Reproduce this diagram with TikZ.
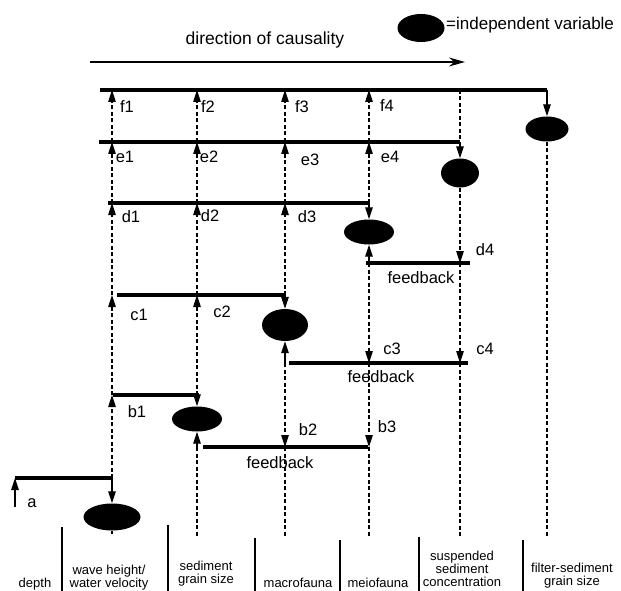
\documentclass[tikz,border=0pt]{standalone}
\usepackage{fontspec}
\setmainfont{Liberation Sans}
\usetikzlibrary{arrows.meta,shapes.geometric}
\begin{document}
\begin{tikzpicture}[x=1pt,y=-1pt,
  bar/.style={line width=3.6pt},
  dsh/.style={line width=1.1pt, dash pattern=on 4pt off 2.5pt},
  tipped/.style={-{Triangle[length=12pt,width=7.5pt]}},
  solidarr/.style={line width=1.3pt,-{Triangle[length=12pt,width=7.5pt]}},
  indep/.style={ellipse, fill=black, draw=none, inner sep=0pt},
  lbl/.style={font=\fontsize{16.5}{18}\selectfont, inner sep=0pt},
  bot/.style={font=\fontsize{13}{13}\selectfont, align=center, inner sep=0pt},
  sep/.style={line width=1.2pt},
]
\useasboundingbox (0,0) rectangle (621,591);

% legend and direction
\node[indep, minimum width=47pt, minimum height=28pt] (leg) at (421,28) {};
\node[anchor=west, inner sep=0pt, font=\fontsize{17}{18}\selectfont] (legt) at (446,25) {=independent variable};
\coordinate (dirA) at (90,62);
\coordinate (dirB) at (465,62);
\draw[line width=1.4pt,-{Stealth[length=16pt,width=9pt]}] (dirA) -- (dirB);
\node[inner sep=0pt, font=\fontsize{17.5}{18}\selectfont] (dirt) at (265,40) {direction of causality};

% independent variables
\node[indep, minimum width=43pt, minimum height=25pt] (fs) at (547,129) {};
\node[indep, minimum width=38pt, minimum height=29pt] (ss) at (460,173) {};
\node[indep, minimum width=50pt, minimum height=25pt] (me) at (369,232) {};
\node[indep, minimum width=46pt, minimum height=32pt] (ma) at (285,325) {};
\node[indep, minimum width=50pt, minimum height=25pt] (se) at (197,419) {};
\node[indep, minimum width=57pt, minimum height=27pt] (wh) at (112,517) {};

% coordinates: horizontal bars
\coordinate (F0) at (100,90);  \coordinate (F1) at (547,90);
\coordinate (E0) at (99,142);  \coordinate (E1) at (460,142);
\coordinate (D0) at (108,203); \coordinate (D1) at (369,203);
\coordinate (G0) at (366,263); \coordinate (G1) at (470,263);
\coordinate (C0) at (117,295); \coordinate (C1) at (285,295);
\coordinate (H0) at (289,363); \coordinate (H1) at (468,363);
\coordinate (B0) at (113,395); \coordinate (B1) at (199,395);
\coordinate (K0) at (203,447); \coordinate (K1) at (368,447);
\coordinate (A0) at (15,478);  \coordinate (A1) at (112,478);

\foreach \a/\b in {F0/F1,E0/E1,D0/D1,G0/G1,C0/C1,H0/H1,B0/B1,K0/K1,A0/A1}
  \draw[bar] (\a) -- (\b);

% corners into the independent variables
\draw[solidarr] (F1) -- (fs.north);
\draw[solidarr] (E1) -- (ss.north);
\draw[solidarr] (D1) -- (me.north);
\draw[solidarr] (C1) -- (ma.north);
\draw[solidarr] (B1 -| se) -- (se.north);
\draw[solidarr] (A1) -- (wh.north);

% feedback arrows up into ellipses
\coordinate (meF) at (369,263);
\coordinate (maF) at (285,363);
\coordinate (seF) at (197,447);
\draw[solidarr] (meF) -- (me.south);
\draw[solidarr] (maF) -- (ma.south);
\draw[solidarr] (seF) -- (se.south);

% column W (112)
\coordinate (wF) at (112,90);  \coordinate (wE) at (112,142);
\coordinate (wD) at (112,203); \coordinate (wC) at (112,295);
\coordinate (wB) at (112,395);
\draw[dsh,tipped] (wE) -- (wF);
\draw[dsh,tipped] (wD) -- (wE);
\draw[dsh,tipped] (wC) -- (wD);
\draw[dsh,tipped] (wB) -- (wC);
\draw[dsh,tipped] (A1) -- (wB);
\coordinate (wEnd) at (112,534);
\draw[line width=1.1pt] (wh.south) -- (wEnd);

% column S (197)
\coordinate (sF) at (197,90);  \coordinate (sE) at (197,142);
\coordinate (sD) at (197,203); \coordinate (sC) at (197,295);
\coordinate (sB) at (197,395); \coordinate (sEnd) at (197,537);
\draw[dsh,tipped] (sE) -- (sF);
\draw[dsh,tipped] (sD) -- (sE);
\draw[dsh,tipped] (sC) -- (sD);
\draw[dsh,tipped] (sB) -- (sC);
\draw[dsh] (seF) -- (sEnd);

% column M (285)
\coordinate (mF) at (285,90);  \coordinate (mE) at (285,142);
\coordinate (mD) at (285,203); \coordinate (mK) at (285,447);
\coordinate (mEnd) at (285,537);
\draw[dsh,tipped] (mE) -- (mF);
\draw[dsh,tipped] (mD) -- (mE);
\draw[dsh,tipped] (C1) -- (mD);
\draw[dsh,tipped] (maF) -- (mK);
\draw[dsh] (mK) -- (mEnd);

% column Me (369)
\coordinate (eF) at (369,90);  \coordinate (eE) at (369,142);
\coordinate (eH) at (369,363); \coordinate (eK) at (369,447);
\coordinate (eEnd) at (369,537);
\draw[dsh,tipped] (eE) -- (eF);
\draw[dsh,tipped] (D1) -- (eE);
\draw[dsh,tipped] (meF) -- (eH);
\draw[dsh,tipped] (eH) -- (eK);
\draw[dsh] (eK) -- (eEnd);

% column SS (460)
\coordinate (tF) at (460,90);  \coordinate (tG) at (460,263);
\coordinate (tH) at (460,363); \coordinate (tEnd) at (460,537);
\draw[dsh] (tF) -- (E1);
\draw[dsh,tipped] (ss.south) -- (tG);
\draw[dsh,tipped] (tG) -- (tH);
\draw[dsh] (tH) -- (tEnd);

% column FS (547)
\coordinate (uEnd) at (547,537);
\draw[dsh] (fs.south) -- (uEnd);

% depth arrow
\coordinate (aS) at (15,507);
\draw[solidarr] (aS) -- (A0);

% labels
\node[lbl] (f1) at (127,107) {f1};
\node[lbl] (f2) at (208,107) {f2};
\node[lbl] (f3) at (302,107) {f3};
\node[lbl] (f4) at (387,106) {f4};
\node[lbl] (e1) at (125,157) {e1};
\node[lbl] (e2) at (209,157) {e2};
\node[lbl] (e3) at (310,160) {e3};
\node[lbl] (e4) at (390,157) {e4};
\node[lbl] (d1) at (131,217) {d1};
\node[lbl] (d2) at (210,216) {d2};
\node[lbl] (d3) at (307,217) {d3};
\node[lbl] (d4) at (485,250) {d4};
\node[lbl] (c1) at (139,315) {c1};
\node[lbl] (c2) at (222,312) {c2};
\node[lbl] (c3) at (392,349) {c3};
\node[lbl] (c4) at (485,349) {c4};
\node[lbl] (b1) at (137,412) {b1};
\node[lbl] (b2) at (308,430) {b2};
\node[lbl] (b3) at (387,427) {b3};
\node[lbl] (a) at (32,503) {a};
\node[lbl] (fb1) at (421,278) {feedback};
\node[lbl] (fb2) at (381,377) {feedback};
\node[lbl] (fb3) at (280,463) {feedback};

% bottom separators
\foreach \x/\y in {62/527,168/525,255/538,340/540,419/537,523/540}
  \draw[sep] (\x,\y) -- (\x,591);

% bottom captions
\node[bot] (cap1) at (35,584) {depth};
\node[bot] (cap2) at (109,578) {wave height/\\water velocity};
\node[bot] (cap3) at (206,574) {sediment\\grain size};
\node[bot] (cap4) at (298,583) {macrofauna};
\node[bot] (cap5) at (378,583) {meiofauna};
\node[bot] (cap6) at (462,569) {suspended\\sediment\\concentration};
\node[bot] (cap7) at (572,576) {filter-sediment\\grain size};
\end{tikzpicture}
\end{document}
